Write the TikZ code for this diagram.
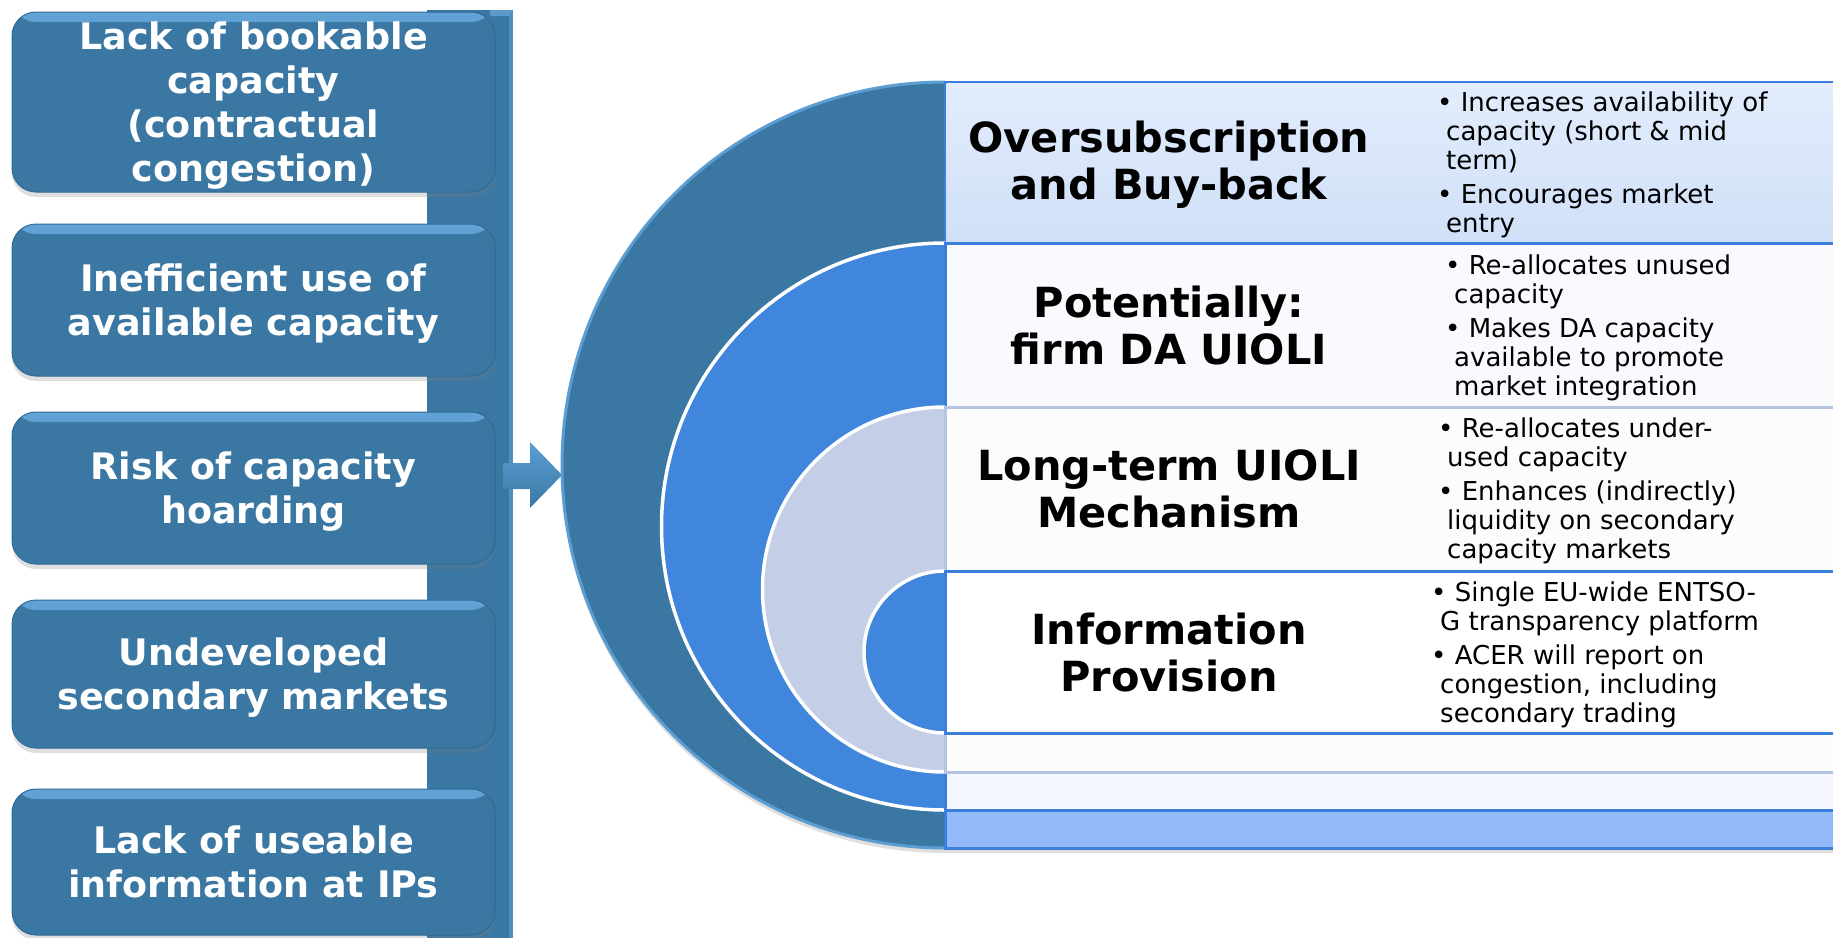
\documentclass[tikz,border=0pt]{standalone}
\usepackage{fontspec}
\setmainfont{DejaVu Sans}
\usetikzlibrary{shadows}
\definecolor{boxblue}{HTML}{3A77A3}
\definecolor{boxlight}{HTML}{6FB2E6}
\definecolor{boxdark}{HTML}{2F6A95}
\definecolor{rimblue}{HTML}{5C9ED3}
\definecolor{brightblue}{HTML}{3F86DC}
\definecolor{greyblue}{HTML}{C4CEE6}
\definecolor{lineblue}{HTML}{3A80DA}
\definecolor{greyline}{HTML}{B4C4E0}
\definecolor{rowtop}{HTML}{E2ECFC}
\definecolor{rowtopb}{HTML}{D0E0F8}
\definecolor{rowbottom}{HTML}{94B9FA}
\definecolor{rowpale}{HTML}{F4F7FE}
\definecolor{rowpaler}{HTML}{F8FAFE}
\newcommand\leftboxfont{\fontsize{36.5}{44}\selectfont\bfseries}
\newcommand\headfont{\fontsize{41.5}{47}\selectfont\bfseries}
\newcommand\bulletfont{\fontsize{26}{29}\selectfont}
\begin{document}
\begin{tikzpicture}[x=1pt,y=-1pt,
  leftbox/.style={rounded corners=24pt, fill=boxblue, draw=boxdark, line width=1pt,
    text=white, font=\leftboxfont, align=center, inner sep=0pt, minimum width=483pt,
    text depth=0pt,
    drop shadow={shadow xshift=0pt, shadow yshift=-5pt, opacity=0.25},
    path picture={\shade[top color=boxlight!75!boxblue, bottom color=boxblue]
      (path picture bounding box.north west) rectangle ([yshift=-10pt]path picture bounding box.north east);}},
  headtext/.style={font=\headfont, align=center, inner sep=0pt, text=black},
  bullettext/.style={font=\bulletfont, align=left, inner sep=0pt, anchor=north west, text=black},
  whitearc/.style={draw=white, line width=3.5pt},
  rowbox/.style={line width=3pt}
  ]
\useasboundingbox (0,0) rectangle (1833,937);

% vertical bar
\fill[boxblue] (427,10) rectangle (513,945);
\fill[rimblue!60!boxblue] (509,10) rectangle (513,945);
\fill[boxlight!60!boxblue] (490,10) -- (513,10) -- (509,16) -- (490,16) -- cycle;

% arrow
\shade[top color=rimblue, bottom color=boxblue] (503,463) -- (530,463) -- (530,442) -- (562,475) -- (530,508) -- (530,489) -- (503,489) -- cycle;

% left boxes
\node[leftbox, minimum height=180pt] (b1) at (253.5,102) {Lack of bookable\\capacity\\(contractual\\congestion)};
\node[leftbox, minimum height=152pt] (b2) at (253.5,300) {Inefficient use of\\available capacity};
\node[leftbox, minimum height=152pt] (b3) at (253.5,488) {Risk of capacity\\hoarding};
\node[leftbox, minimum height=148pt] (b4) at (253.5,674) {Undeveloped\\secondary markets};
\node[leftbox, minimum height=146pt] (b5) at (253.5,862) {Lack of useable\\information at IPs};

% outer nested shape
\path[fill=boxblue, drop shadow={shadow xshift=0pt, shadow yshift=-5pt, opacity=0.25}]
  (945,82) arc[start angle=270, end angle=90, radius=383] -- (1840,848) -- (1840,82) -- cycle;
\draw[rimblue, line width=3pt] (945,82) arc[start angle=270, end angle=90, radius=383];
\draw[rowbox, draw=lineblue, fill=rowbottom] (945,82) rectangle (1840,848);
\shade[top color=rowtop, bottom color=rowtopb] (946.5,83.5) rectangle (1840,242);

% second
\fill[brightblue] (945,243) arc[start angle=270, end angle=90, radius=283.5] -- cycle;
\draw[whitearc] (945,243) arc[start angle=270, end angle=90, radius=283.5];
\draw[rowbox, draw=lineblue, fill=rowpale] (945,243) rectangle (1840,810);
\fill[rowpaler] (946.5,244.5) rectangle (1840,406);

% third
\fill[greyblue] (945,407) arc[start angle=270, end angle=90, radius=182.5] -- cycle;
\draw[whitearc] (945,407) arc[start angle=270, end angle=90, radius=182.5];
\draw[rowbox, draw=greyline, fill=white!99!black] (945,407) rectangle (1840,772);

% fourth
\fill[brightblue] (945,571) arc[start angle=270, end angle=90, radius=81] -- cycle;
\draw[whitearc] (945,571) arc[start angle=270, end angle=90, radius=81];
\draw[rowbox, draw=lineblue, fill=white] (945,571) rectangle (1840,733);

% headings
\node[headtext] (h1) at (1169,165) {Oversubscription\\and Buy-back};
\node[headtext] (h2) at (1169,326) {Potentially:\\firm DA UIOLI};
\node[headtext] (h3) at (1169,489) {Long-term UIOLI\\Mechanism};
\node[headtext] (h4) at (1169,653) {Information\\Provision};

% bullets
\node[bullettext] (t1) at (1437,92) {\textbullet\ Increases availability of\\\hspace*{9pt}capacity (short \& mid\\\hspace*{9pt}term)\\[5pt]\textbullet\ Encourages market\\\hspace*{9pt}entry};
\node[bullettext] (t2) at (1445,255) {\textbullet\ Re-allocates unused\\\hspace*{9pt}capacity\\[5pt]\textbullet\ Makes DA capacity\\\hspace*{9pt}available to promote\\\hspace*{9pt}market integration};
\node[bullettext] (t3) at (1438,418) {\textbullet\ Re-allocates under-\\\hspace*{9pt}used capacity\\[5pt]\textbullet\ Enhances (indirectly)\\\hspace*{9pt}liquidity on secondary\\\hspace*{9pt}capacity markets};
\node[bullettext] (t4) at (1431,582) {\textbullet\ Single EU-wide ENTSO-\\\hspace*{9pt}G transparency platform\\[5pt]\textbullet\ ACER will report on\\\hspace*{9pt}congestion, including\\\hspace*{9pt}secondary trading};
\end{tikzpicture}
\end{document}
